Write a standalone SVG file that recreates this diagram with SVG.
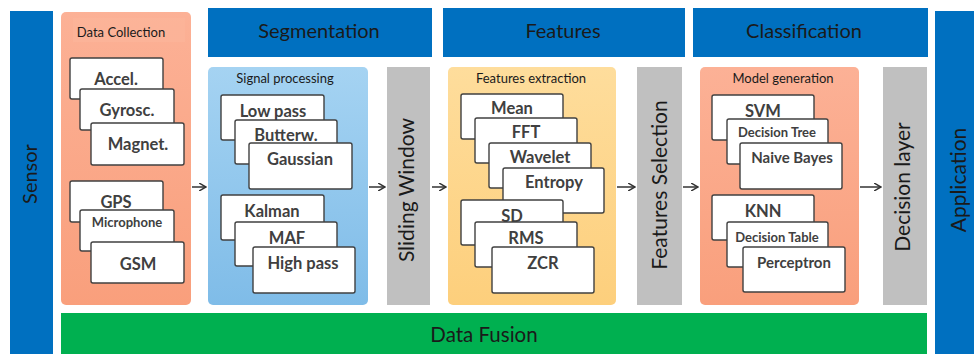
<svg xmlns="http://www.w3.org/2000/svg" width="974" height="354" viewBox="0 0 974 354">
<defs>
<style>
.bar{fill:#0070c0}
.hd{font-family:Lato,"Open Sans",sans-serif;font-size:20px;fill:#1a1a1a;text-anchor:middle}
.big{font-family:Lato,"Open Sans",sans-serif;font-size:21px;fill:#1a1a1a;text-anchor:middle}
.ttl{font-family:Lato,"Open Sans",sans-serif;font-size:13px;fill:#1a1a1a;text-anchor:middle}
.card{fill:#ffffff;stroke:#404040;stroke-width:1.4}
.c{font-family:Lato,"Open Sans",sans-serif;font-size:16.5px;font-weight:700;fill:#404040;text-anchor:middle}
.cs{font-family:Lato,"Open Sans",sans-serif;font-size:13px;font-weight:700;fill:#404040;text-anchor:middle}
.cm{font-family:Lato,"Open Sans",sans-serif;font-size:15px;font-weight:700;fill:#404040;text-anchor:middle}
.gray{fill:#c0c0c0}
.arr{stroke:#333;stroke-width:1.5;fill:none;marker-end:url(#ah)}
</style>
<marker id="ah" markerWidth="8" markerHeight="8" refX="7" refY="4" orient="auto" markerUnits="userSpaceOnUse">
<path d="M0,0 L7,4 L0,8" fill="none" stroke="#333" stroke-width="1.5"/>
</marker>
<linearGradient id="gSal" x1="0" y1="0" x2="0" y2="1">
<stop offset="0" stop-color="#fcb196"/><stop offset="1" stop-color="#f99f7c"/>
</linearGradient>
<linearGradient id="gBlu" x1="0" y1="0" x2="0" y2="1">
<stop offset="0" stop-color="#a5d3f2"/><stop offset="1" stop-color="#7fbce8"/>
</linearGradient>
<linearGradient id="gYel" x1="0" y1="0" x2="0" y2="1">
<stop offset="0" stop-color="#fedd9c"/><stop offset="1" stop-color="#fdcf7c"/>
</linearGradient>
</defs>
<rect width="974" height="354" fill="#ffffff"/>

<g id="sensor">
<rect class="bar" x="10" y="11" width="43" height="343"/>
<text class="big" transform="translate(37,174) rotate(-90)" style="font-size:20px">Sensor</text>
</g>

<g id="application">
<rect class="bar" x="935" y="11" width="39" height="343"/>
<text class="big" transform="translate(966,180) rotate(-90)">Application</text>
</g>

<g id="data-fusion">
<rect x="61" y="313" width="866" height="41" fill="#00b050"/>
<text class="big" x="484" y="342" style="font-size:20.5px">Data Fusion</text>
</g>

<g id="segmentation">
<rect class="bar" x="208" y="8" width="224" height="49"/>
<text class="hd" x="319" y="38">Segmentation</text>
</g>
<g id="features">
<rect class="bar" x="443" y="8" width="242" height="49"/>
<text class="hd" x="563" y="38">Features</text>
</g>
<g id="classification">
<rect class="bar" x="693" y="8" width="235" height="49"/>
<text class="hd" x="804" y="38">Classification</text>
</g>

<g id="data-collection">
<rect x="61" y="12" width="130" height="293" rx="5" fill="url(#gSal)"/>
<rect x="73" y="18" width="112" height="24" fill="#fcb59b" opacity="0.6"/>
<text class="ttl" x="121" y="37">Data Collection</text>
<rect class="card" x="70" y="58" width="93" height="41" rx="2"/>
<text class="c" x="116" y="85">Accel.</text>
<rect class="card" x="80" y="89" width="94" height="41" rx="2"/>
<text class="c" x="127" y="116">Gyrosc.</text>
<rect class="card" x="91" y="123" width="93" height="42" rx="2"/>
<text class="c" x="138" y="150">Magnet.</text>
<rect class="card" x="70" y="181" width="93" height="41" rx="2"/>
<text class="c" x="116" y="208">GPS</text>
<rect class="card" x="80" y="210" width="94" height="41" rx="2"/>
<text class="cs" x="127" y="227">Microphone</text>
<rect class="card" x="91" y="242" width="93" height="41" rx="2"/>
<text class="c" x="138" y="270">GSM</text>
</g>

<g id="signal-processing">
<rect x="208" y="67" width="160" height="238" rx="5" fill="url(#gBlu)"/>
<text class="ttl" x="285" y="83">Signal processing</text>
<rect class="card" x="221" y="95" width="103" height="45" rx="2"/>
<text class="c" x="273" y="117">Low pass</text>
<rect class="card" x="235" y="120" width="102" height="44" rx="2"/>
<text class="c" x="286" y="141">Butterw.</text>
<rect class="card" x="249" y="143" width="103" height="46" rx="2"/>
<text class="c" x="300" y="165">Gaussian</text>
<rect class="card" x="221" y="195" width="103" height="45" rx="2"/>
<text class="c" x="272" y="217">Kalman</text>
<rect class="card" x="235" y="222" width="102" height="44" rx="2"/>
<text class="c" x="287" y="244">MAF</text>
<rect class="card" x="253" y="247" width="102" height="46" rx="2"/>
<text class="c" x="303" y="269">High pass</text>
</g>

<g id="sliding-window">
<rect class="gray" x="387" y="67" width="43" height="238"/>
<text class="big" transform="translate(414,190) rotate(-90)">Sliding Window</text>
</g>

<g id="features-extraction">
<rect x="448" y="67" width="168" height="238" rx="5" fill="url(#gYel)"/>
<text class="ttl" x="531" y="83">Features extraction</text>
<rect class="card" x="461" y="94" width="102" height="45" rx="2"/>
<text class="c" x="512" y="114">Mean</text>
<rect class="card" x="475" y="118" width="102" height="45" rx="2"/>
<text class="c" x="526" y="138">FFT</text>
<rect class="card" x="489" y="143" width="102" height="45" rx="2"/>
<text class="c" x="540" y="163">Wavelet</text>
<rect class="card" x="503" y="168" width="101" height="45" rx="2"/>
<text class="c" x="554" y="188">Entropy</text>
<rect class="card" x="461" y="200" width="102" height="45" rx="2"/>
<text class="c" x="512" y="222">SD</text>
<rect class="card" x="475" y="222" width="102" height="45" rx="2"/>
<text class="c" x="526" y="244">RMS</text>
<rect class="card" x="492" y="247" width="102" height="46" rx="2"/>
<text class="c" x="543" y="269">ZCR</text>
</g>

<g id="features-selection">
<rect class="gray" x="637" y="67" width="45" height="238"/>
<text class="big" transform="translate(667,185) rotate(-90)">Features Selection</text>
</g>

<g id="model-generation">
<rect x="700" y="67" width="159" height="238" rx="5" fill="url(#gSal)"/>
<text class="ttl" x="783" y="83">Model generation</text>
<rect class="card" x="712" y="95" width="102" height="45" rx="2"/>
<text class="c" x="763" y="117">SVM</text>
<rect class="card" x="727" y="119" width="101" height="45" rx="2"/>
<text class="cs" x="777" y="137">Decision Tree</text>
<rect class="card" x="740" y="143" width="102" height="46" rx="2"/>
<text class="cm" x="792" y="163">Naive Bayes</text>
<rect class="card" x="712" y="195" width="102" height="45" rx="2"/>
<text class="c" x="763" y="217">KNN</text>
<rect class="card" x="727" y="222" width="101" height="45" rx="2"/>
<text class="cs" x="777" y="242">Decision Table</text>
<rect class="card" x="743" y="247" width="102" height="45" rx="2"/>
<text class="cm" x="794" y="268">Perceptron</text>
</g>

<g id="decision-layer">
<rect class="gray" x="883" y="67" width="44" height="238"/>
<text class="big" transform="translate(910,187) rotate(-90)">Decision layer</text>
</g>

<g id="connectors">
<line class="arr" x1="192" y1="187" x2="206" y2="187"/>
<line class="arr" x1="369" y1="187" x2="385" y2="187"/>
<line class="arr" x1="432" y1="187" x2="446" y2="187"/>
<line class="arr" x1="617" y1="187" x2="635" y2="187"/>
<line class="arr" x1="683" y1="187" x2="698" y2="187"/>
<line class="arr" x1="860" y1="187" x2="881" y2="187"/>
</g>
</svg>
